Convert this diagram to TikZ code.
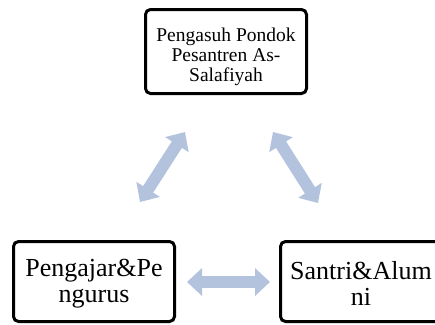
\documentclass[tikz,border=0pt]{standalone}
\usepackage{fontspec}
\setmainfont{Liberation Serif}
\usetikzlibrary{arrows.meta}
\definecolor{arrowblue}{RGB}{179,195,222}
\tikzset{
  boxnode/.style={draw=black, line width=3pt, rounded corners=5pt, fill=white,
    minimum width=161pt, inner sep=0pt},
  boxtext/.style={inner sep=0pt, align=center},
  dblarrow/.style={draw=arrowblue, line width=12pt,
    {Triangle[length=15pt,width=27pt]}-{Triangle[length=15pt,width=27pt]}}
}
\begin{document}
\begin{tikzpicture}[x=1pt,y=-1pt]
\useasboundingbox (0,0) rectangle (435,324);
\clip (0,0) rectangle (435,324);
\node[boxnode, minimum height=84pt] (top) at (226,51.5) {};
\node[boxtext, font=\fontsize{19.5}{20}\selectfont] (toptext) at ([yshift=-5pt]top.center)
  {Pengasuh Pondok\\Pesantren As-\\Salafiyah};
\node[boxnode, minimum height=80pt] (lft) at (94,281.5) {};
\node[boxtext, font=\fontsize{26}{26}\selectfont] (lfttext) at ([yshift=-2pt]lft.center)
  {Pengajar\&Pe\\ngurus};
\node[boxnode, minimum height=80pt] (rgt) at (361,281.5) {};
\node[boxtext, font=\fontsize{26}{26}\selectfont] (rgttext) at ([yshift=-2pt]rgt.center)
  {Santri\&Alum\\ni};
\coordinate (a1) at (140,202);
\coordinate (a2) at (185,132);
\coordinate (b1) at (273,132);
\coordinate (b2) at (318,203);
\coordinate (c1) at (187,282);
\coordinate (c2) at (270,282);
\draw[dblarrow] (a1) -- (a2);
\draw[dblarrow] (b1) -- (b2);
\draw[dblarrow] (c1) -- (c2);
\end{tikzpicture}
\end{document}
